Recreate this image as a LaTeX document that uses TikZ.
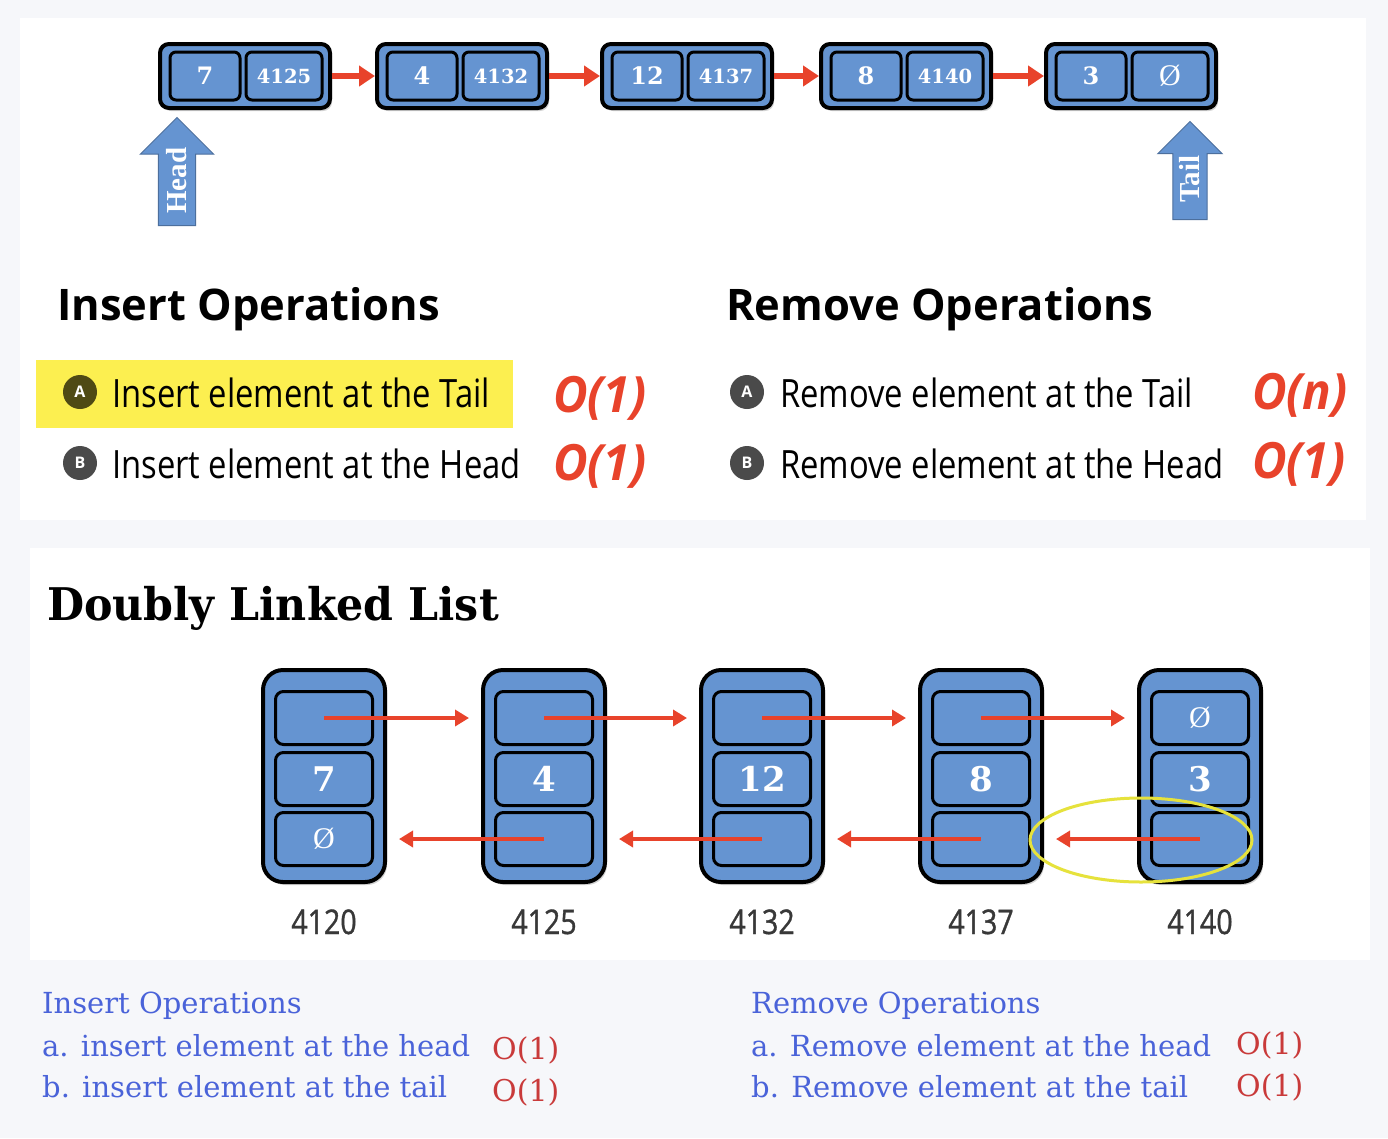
\documentclass[tikz,border=0pt]{standalone}
\usepackage{fontspec}
\setmainfont{Open Sans}
\newfontfamily\headfont{Open Sans}
\newfontfamily\itemfont[FakeStretch=0.84]{Open Sans}
\newfontfamily\addrfont[FakeStretch=0.84, FakeBold=1]{Open Sans}
\newfontfamily\costfont[FakeStretch=0.95]{Open Sans}
\newfontfamily\boxfont{DejaVu Serif}
\newfontfamily\titlefont[FakeStretch=0.95]{DejaVu Serif}
\newfontfamily\arrowfont{Liberation Serif}
\newfontfamily\voidfont{Liberation Serif}
\newfontfamily\notefont{DejaVu Serif}
\usetikzlibrary{positioning,shapes.arrows,shapes.geometric,shadows,arrows.meta}
\definecolor{pagebg}{HTML}{F6F7FA}
\definecolor{cellblue}{HTML}{6594D1}
\definecolor{linkred}{HTML}{E8432B}
\definecolor{hlyellow}{HTML}{FCEF50}
\definecolor{badgeolive}{HTML}{4F4A14}
\definecolor{badgegray}{HTML}{4A4A4A}
\definecolor{ringyellow}{HTML}{E6E23C}
\definecolor{noteblue}{HTML}{4A63D9}
\definecolor{notered}{HTML}{C93A3A}
\newcommand\nullmark{{\voidfont\mdseries\fontsize{30}{30}\selectfont Ø}}
\tikzset{
	listbox/.style = {draw, line width=4pt, rounded corners=9pt, fill=cellblue,
		minimum width=170pt, minimum height=64pt,
		drop shadow={opacity=.35, shadow xshift=2pt, shadow yshift=-3pt}},
	cell/.style    = {draw, line width=3pt, rounded corners=6pt, fill=cellblue,
		minimum height=48pt, inner sep=0pt, text=white,
		font=\boxfont\bfseries\fontsize{24}{24}\selectfont},
	ptr/.style     = {minimum width=76pt, font=\boxfont\bfseries\fontsize{19.5}{20}\selectfont},
	nextlink/.style = {draw=linkred, line width=6pt, -{Triangle[length=16pt,width=20pt]}},
	pointer/.style = {single arrow, draw=cellblue!75!black, line width=1pt, fill=cellblue,
		rotate=90, single arrow head extend=18pt, inner xsep=3pt, inner ysep=8pt,
		text=white, font=\arrowfont\bfseries\fontsize{29}{29}\selectfont},
	heading/.style = {anchor=base west, inner sep=0pt, font=\headfont\bfseries\fontsize{43.5}{48}\selectfont},
	badge/.style   = {circle, minimum size=34pt, inner sep=0pt, text=white,
		font=\bfseries\fontsize{16}{16}\selectfont},
	optext/.style  = {anchor=base west, inner sep=0pt, font=\itemfont\fontsize{39}{44}\selectfont},
	cost/.style    = {anchor=base west, inner sep=0pt, text=linkred,
		font=\costfont\bfseries\itshape\fontsize{50}{54}\selectfont},
	dbox/.style    = {draw, line width=4pt, rounded corners=20pt, fill=cellblue,
		minimum width=122pt, minimum height=212pt,
		drop shadow={opacity=.35, shadow xshift=2pt, shadow yshift=-3pt}},
	dcell/.style   = {draw, line width=3pt, rounded corners=8pt, fill=cellblue,
		minimum width=97pt, minimum height=53pt, inner sep=0pt, text=white,
		font=\boxfont\bfseries\fontsize{34}{34}\selectfont},
	dlink/.style   = {draw=linkred, line width=4pt, -{Triangle[length=14pt,width=16pt]}},
	addr/.style    = {anchor=base, inner sep=0pt, text=black!78,
		font=\addrfont\fontsize{34}{36}\selectfont},
	note/.style    = {anchor=base west, inner sep=0pt, text=noteblue,
		font=\notefont\fontsize{29}{32}\selectfont},
	bigo/.style    = {anchor=base west, inner sep=0pt, text=notered,
		font=\notefont\fontsize{30}{32}\selectfont}
}
\begin{document}
\begin{tikzpicture}[x=1pt,y=-1pt]
	\useasboundingbox (0,0) rectangle (1388,1138);
	\fill[pagebg] (0,0) rectangle (1388,1138);
	\fill[white] (20,18) rectangle (1366,520);
	\fill[white] (30,548) rectangle (1370,960);
	
	% singly linked list
	\foreach \i/\x/\v/\p in {1/245/7/4125, 2/462/4/4132, 3/687/12/4137, 4/906/8/4140, 5/1131/3/\nullmark}{
		\node[listbox] (s\i) at (\x,76) {};
		\node[cell, minimum width=70pt] (sv\i) at ([xshift=-40pt]s\i.center) {\v};
		\node[cell, ptr] (sp\i) at ([xshift=39pt]s\i.center) {\p};
	}
	\foreach \a/\b in {1/2,2/3,3/4,4/5}
	\draw[nextlink] (s\a) -- (s\b);
	\node[pointer, anchor=tail, minimum height=108pt] (head) at (177,226) {Head};
	\node[pointer, anchor=tail, minimum height=98pt, single arrow head extend=15pt, inner ysep=6.5pt] (tail) at (1190,220) {Tail};
	
	% insert / remove costs
	\node[heading] (insh) at (57,320) {Insert Operations};
	\node[heading] (remh) at (726,320) {Remove Operations};
	\node[fill=hlyellow, minimum width=477pt, minimum height=68pt] (hl) at (274.5,394) {};
	\node[badge, fill=badgeolive] (ia) at (80,392) {A};
	\node[badge, fill=badgegray] (ib) at (80,463) {B};
	\node[optext] (iat) at (112,407) {Insert element at the Tail};
	\node[optext] (ibt) at (112,478) {Insert element at the Head};
	\node[cost] (iac) at (553,412) {O(1)};
	\node[cost] (ibc) at (553,480) {O(1)};
	\node[badge, fill=badgegray] (ra) at (747,392) {A};
	\node[badge, fill=badgegray] (rb) at (747,463) {B};
	\node[optext] (rat) at (780,407) {Remove element at the Tail};
	\node[optext] (rbt) at (780,478) {Remove element at the Head};
	\node[cost] (rac) at (1252,409) {O(n)};
	\node[cost] (rbc) at (1252,478) {O(1)};
	
	% doubly linked list
	\node[anchor=base west, inner sep=0pt, font=\titlefont\bfseries\fontsize{45}{48}\selectfont] (dtitle) at (47,620) {Doubly Linked List};
	\foreach \i/\x/\v/\a/\n/\p in {1/324/7/4120/{}/\nullmark, 2/544/4/4125/{}/{}, 3/762/12/4132/{}/{}, 4/981/8/4137/{}/{}, 5/1200/3/4140/\nullmark/{}}{
		\node[dbox] (d\i) at (\x,776) {};
		\node[dcell] (n\i) at (\x,718) {\n};
		\node[dcell] (v\i) at (\x,779) {\v};
		\node[dcell] (p\i) at (\x,839) {\p};
		\node[addr] (ad\i) at (\x,934) {\a};
	}
	\foreach \a/\b in {1/2,2/3,3/4,4/5}{
		\draw[dlink] (n\a.center) -- ([xshift=-12pt]d\b.west |- n\a.center);
		\draw[dlink] (p\b.center) -- ([xshift=12pt]d\a.east |- p\b.center);
	}
	\node[ellipse, draw=ringyellow, line width=3pt, minimum width=222pt, minimum height=84pt] (ring) at (1141,840) {};
	
	% notes
	\node[note] (nih) at (42,1013) {Insert Operations};
	\node[note] (nia) at (42,1056) {a. insert element at the head};
	\node[note] (nib) at (42,1097) {b. insert element at the tail};
	\node[bigo] (nic) at (492,1059) {O(1)};
	\node[bigo] (nid) at (492,1101) {O(1)};
	\node[note] (nrh) at (751,1013) {Remove Operations};
	\node[note] (nra) at (751,1056) {a. Remove element at the head};
	\node[note] (nrb) at (751,1097) {b. Remove element at the tail};
	\node[bigo] (nrc) at (1236,1054) {O(1)};
	\node[bigo] (nrd) at (1236,1096) {O(1)};
\end{tikzpicture}
\end{document}
